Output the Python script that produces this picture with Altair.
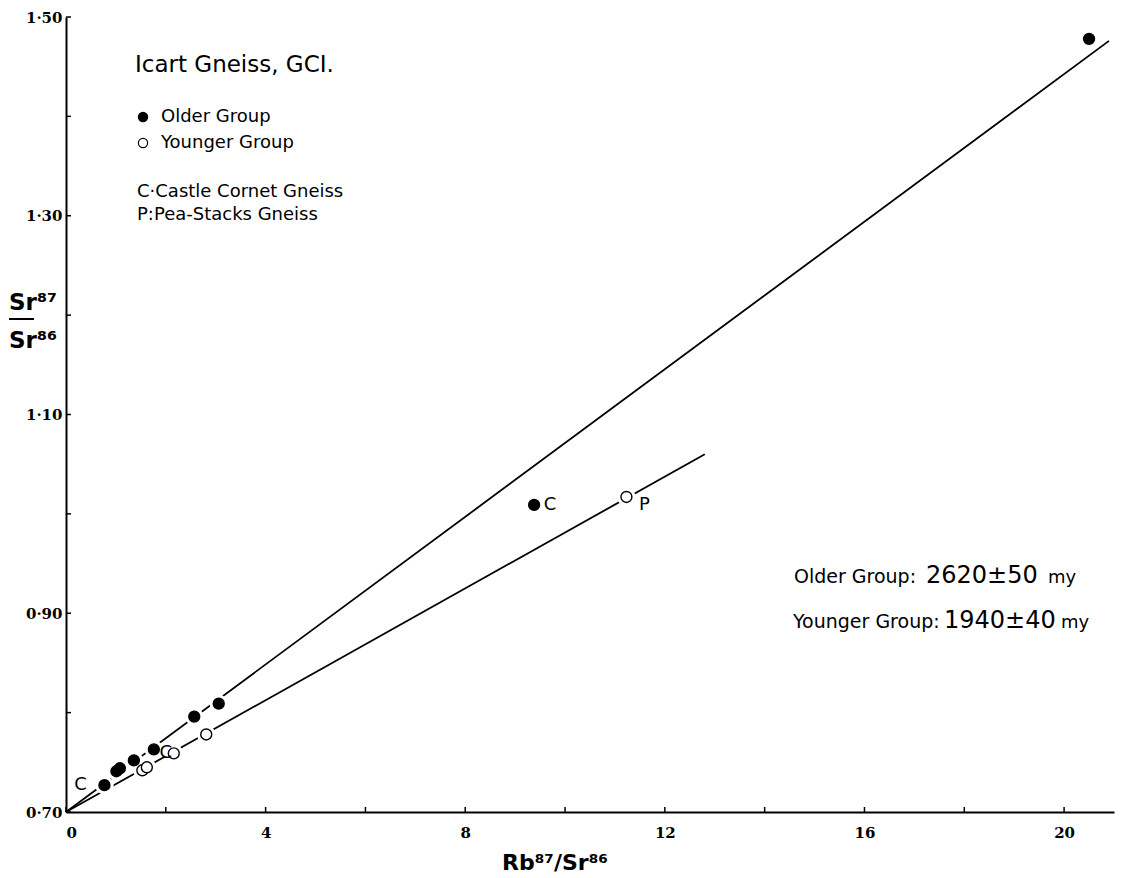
import altair as alt
import pandas as pd

# ---- data ----
groups = ["Older Group", "Younger Group"]

older_x = [0.77, 1.01, 1.08, 1.36, 1.76, 2.57, 3.06, 9.38, 20.50]
older_y = [0.727, 0.741, 0.744, 0.752, 0.763, 0.796, 0.809, 1.009, 1.478]
older_lbl = ["C", "", "", "", "", "", "", "C", ""]

younger_x = [1.53, 1.62, 2.16, 2.81, 11.23]
younger_y = [0.742, 0.745, 0.759, 0.778, 1.017]
younger_lbl = ["", "", "C", "", "P"]

older_line_x = [0.0, 20.9]
older_line_y = [0.70, 1.476]
younger_line_x = [0.0, 12.8]
younger_line_y = [0.70, 1.060]

x_tick_vals = [0, 2, 4, 6, 8, 10, 12, 14, 16, 18, 20]
x_label_vals = [0, 4, 8, 12, 16, 20]
y_tick_vals = [0.70, 0.80, 0.90, 1.00, 1.10, 1.20, 1.30, 1.40, 1.50]
y_label_vals = [0.70, 0.90, 1.10, 1.30, 1.50]

title_txt = "Icart Gneiss, GCI."
key_txt = ["C·Castle Cornet Gneiss", "P:Pea-Stacks Gneiss"]
age_lbl = ["Older Group:", "Younger Group:"]
age_val = ["2620±50", "1940±40"]
age_unit = ["my", "my"]
x_title = "Rb⁸⁷/Sr⁸⁶"
y_title = ["Sr⁸⁷", "Sr⁸⁶"]

# ---- tables ----
pts = pd.concat([
    pd.DataFrame({"x": older_x, "y": older_y, "label": older_lbl, "group": groups[0]}),
    pd.DataFrame({"x": younger_x, "y": younger_y, "label": younger_lbl, "group": groups[1]}),
], ignore_index=True)

lines = pd.concat([
    pd.DataFrame({"x": older_line_x, "y": older_line_y, "group": groups[0]}),
    pd.DataFrame({"x": younger_line_x, "y": younger_line_y, "group": groups[1]}),
], ignore_index=True)

W, H = 1048, 795
FONT = "DejaVu Sans"
xs = alt.Scale(domain=[0, 21], nice=False, zero=False)
ys = alt.Scale(domain=[0.70, 1.50], nice=False, zero=False)

x_axis = alt.Axis(values=x_label_vals, ticks=False, grid=False, title=None,
                  domainColor="black", domainWidth=2,
                  labelFont="DejaVu Serif", labelFontWeight="bold", labelFontSize=15,
                  labelColor="black", labelPadding=13)
y_axis = alt.Axis(values=y_label_vals, ticks=False, grid=False, title=None,
                  domainColor="black", domainWidth=2,
                  labelExpr="replace(format(datum.value, '.2f'), '.', '·')",
                  labelFont="DejaVu Serif", labelFontWeight="bold", labelFontSize=15,
                  labelColor="black", labelPadding=4)

line_layer = alt.Chart(lines).mark_line(color="black", strokeWidth=1.8).encode(
    x=alt.X("x:Q", scale=xs, axis=x_axis),
    y=alt.Y("y:Q", scale=ys, axis=y_axis),
    detail="group:N",
)

halo = alt.Chart(pts).mark_circle(color="white", opacity=1, size=340).encode(
    x=alt.X("x:Q", scale=xs), y=alt.Y("y:Q", scale=ys)
)

points = alt.Chart(pts).mark_point(shape="circle", stroke="black", strokeWidth=1.4,
                                   opacity=1, size=120).encode(
    x=alt.X("x:Q", scale=xs),
    y=alt.Y("y:Q", scale=ys),
    fill=alt.Fill("group:N", scale=alt.Scale(domain=groups, range=["black", "white"]),
                  legend=alt.Legend(title=None, orient="none", legendX=68, legendY=91,
                                    labelFont=FONT, labelFontSize=18, labelColor="black",
                                    symbolType="circle", symbolSize=85, symbolStrokeColor="black",
                                    symbolStrokeWidth=1.2, labelOffset=9, rowPadding=8, padding=0)),
)

def lbl_layer(expr, dx, dy):
    return alt.Chart(pts).transform_filter(expr).mark_text(
        font=FONT, fontSize=18, color="black", align="center", baseline="middle", dx=dx, dy=dy
    ).encode(x=alt.X("x:Q", scale=xs), y=alt.Y("y:Q", scale=ys), text="label:N")

labels = [
    lbl_layer("datum.group == 'Older Group' && datum.label != '' && datum.x < 5", -24, 0),
    lbl_layer("datum.group == 'Older Group' && datum.label != '' && datum.x >= 5", 16, 0),
    lbl_layer("datum.group == 'Younger Group' && datum.label == 'C'", -8, 0),
    lbl_layer("datum.group == 'Younger Group' && datum.label == 'P'", 18, 8),
]

xt = alt.Chart(pd.DataFrame({"t": x_tick_vals})).mark_rule(color="black", strokeWidth=1.5).encode(
    x=alt.X("t:Q", scale=xs), y=alt.value(H), y2=alt.value(H - 5))
yt = alt.Chart(pd.DataFrame({"t": y_tick_vals})).mark_rule(color="black", strokeWidth=1.5).encode(
    y=alt.Y("t:Q", scale=ys), x=alt.value(0), x2=alt.value(5))

def note(txt, x, y, size, weight="normal", baseline="middle", align="left"):
    return alt.Chart(pd.DataFrame({"t": [txt]})).mark_text(
        font=FONT, fontSize=size, fontWeight=weight, color="black", align=align, baseline=baseline
    ).encode(x=alt.value(x), y=alt.value(y), text="t:N")

notes = [
    note(title_txt, 69, 48, 23),
    note(key_txt[0], 71, 175, 18),
    note(key_txt[1], 71, 198, 18),
    note(age_lbl[0], 728, 566, 19, baseline="alphabetic"),
    note(age_val[0], 860, 566, 24, baseline="alphabetic"),
    note(age_unit[0], 982, 566, 18, baseline="alphabetic"),
    note(age_lbl[1], 727, 611, 19, baseline="alphabetic"),
    note(age_val[1], 878, 611, 24, baseline="alphabetic"),
    note(age_unit[1], 995, 611, 18, baseline="alphabetic"),
    note(x_title, 436, 853, 22, weight="bold", baseline="alphabetic"),
    note(y_title[0], -57, 293, 23, weight="bold", baseline="alphabetic"),
    note(y_title[1], -57, 331, 23, weight="bold", baseline="alphabetic"),
]

underline = alt.Chart(pd.DataFrame({"t": [0]})).mark_rule(color="black", strokeWidth=2).encode(
    x=alt.value(-57), x2=alt.value(-32), y=alt.value(302))

chart = alt.layer(line_layer, halo, points, *labels, xt, yt, *notes, underline).properties(
    width=W, height=H,
    autosize=alt.AutoSizeParams(type="none"),
    padding={"left": 58, "top": 9, "right": 2, "bottom": 62},
    background="white",
).configure_view(stroke=None)

chart.save("out.html", embed_options={"renderer": "svg", "actions": False})
